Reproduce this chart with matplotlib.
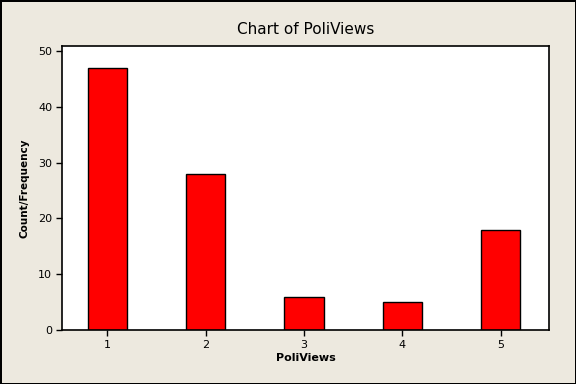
import numpy as np
import matplotlib.pyplot as plt

# --- данные ---
categories = [1, 2, 3, 4, 5]
counts = [47, 28, 6, 5, 18]

fig = plt.figure(figsize=(5.76, 3.84), dpi=100, facecolor='#EDE9DF',
                 edgecolor='black', linewidth=1)
ax = fig.add_axes([0.1076, 0.1406, 0.8454, 0.7394])
ax.set_facecolor('white')

ax.bar(categories, counts, width=0.4, color='#FF0000', edgecolor='black', linewidth=1)

ax.set_xlim(0.54, 5.49)
ax.set_ylim(0, 50.9)
ax.set_xticks(categories)
ax.set_yticks([0, 10, 20, 30, 40, 50])
ax.tick_params(direction='out', length=4, width=1, labelsize=8, pad=3)
for s in ax.spines.values():
    s.set_linewidth(1.2)

ax.set_title('Chart of PoliViews', fontsize=11, pad=9)
ax.set_xlabel('PoliViews', fontsize=8, fontweight='bold', labelpad=2)
ax.set_ylabel('Count/Frequency', fontsize=7.5, fontweight='bold', labelpad=6)

fig.savefig('out.png', dpi=100, facecolor=fig.get_facecolor(), edgecolor=fig.get_edgecolor())
